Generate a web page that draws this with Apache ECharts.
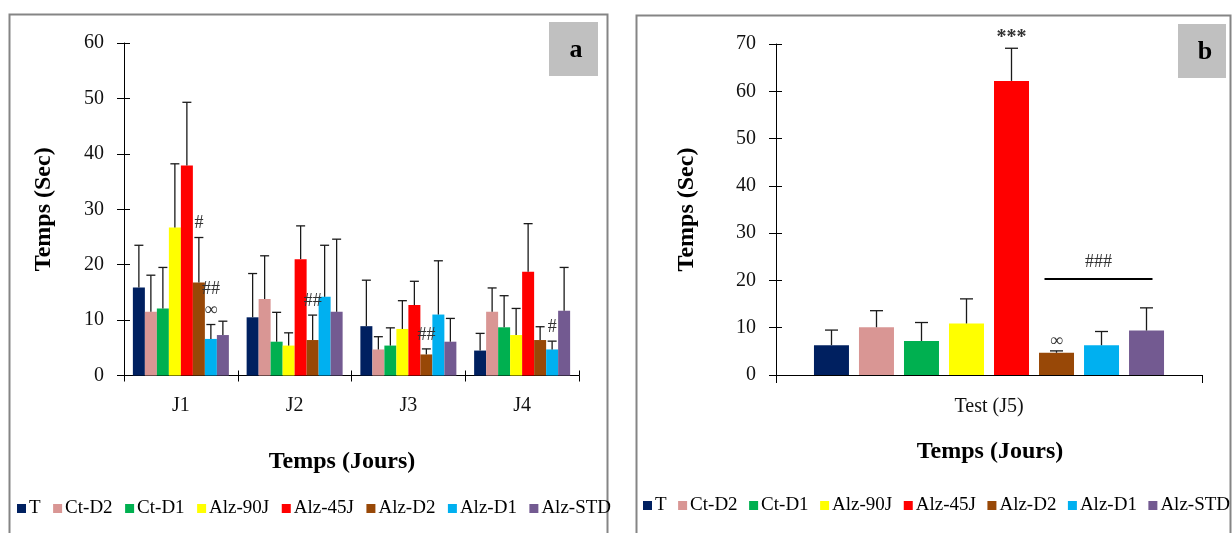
<!DOCTYPE html>
<html>
<head>
<meta charset="utf-8">
<script src="https://cdn.jsdelivr.net/npm/echarts@6/dist/echarts.min.js"></script>
<style>
  html, body { margin: 0; padding: 0; background: #fff; }
  #chart { width: 1232px; height: 533px; }
</style>
</head>
<body>
<div id="chart"></div>
<script>
// Groups and colours
const groups = ['T', 'Ct-D2', 'Ct-D1', 'Alz-90J', 'Alz-45J', 'Alz-D2', 'Alz-D1', 'Alz-STD'];
const groupColors = ['#002060', '#D99694', '#00B050', '#FFFF00', '#FF0000', '#984807', '#00B0F0', '#735A91'];

// Panel a: training days
const days = ['J1', 'J2', 'J3', 'J4'];
const meanJ1 = [15.9, 11.5, 12.1, 26.7, 37.9, 16.8, 6.6, 7.3];
const meanJ2 = [10.5, 13.8, 6.1, 5.4, 21.0, 6.4, 14.2, 11.5];
const meanJ3 = [8.9, 4.7, 5.4, 8.4, 12.7, 3.8, 11.0, 6.1];
const meanJ4 = [4.5, 11.5, 8.7, 7.3, 18.7, 6.4, 4.7, 11.7];
const semJ1 = [7.6, 6.6, 7.4, 11.5, 11.4, 8.1, 2.6, 2.5];
const semJ2 = [7.9, 7.8, 5.3, 2.3, 6.0, 4.5, 9.3, 13.1];
const semJ3 = [8.3, 2.3, 3.2, 5.1, 4.3, 1.0, 9.7, 4.2];
const semJ4 = [3.1, 4.3, 5.7, 4.8, 8.7, 2.4, 1.5, 7.8];
const yTicksA = [0, 10, 20, 30, 40, 50, 60];

// Panel b: probe test
const testDay = ['Test (J5)'];
const meanJ5 = [6.3, 10.1, 7.2, 10.9, 62.2, 4.7, 6.3, 9.4];
const semJ5 = [3.2, 3.5, 3.9, 5.2, 6.9, 0.4, 2.9, 4.8];
const yTicksB = [0, 10, 20, 30, 40, 50, 60, 70];

// Significance marks: [day, group, symbol]
const marksA = [
  ['J1', 'Alz-D2', '#'],
  ['J1', 'Alz-D1', '∞'],
  ['J1', 'Alz-D1', '##'],
  ['J2', 'Alz-D2', '##'],
  ['J3', 'Alz-D2', '##'],
  ['J4', 'Alz-D1', '#']
];
const marksB = [
  ['Test (J5)', 'Alz-45J', '***'],
  ['Test (J5)', 'Alz-D2', '∞']
];
// Bracket over the treated groups in the test
const bracketGroups = ['Alz-D2', 'Alz-STD'];
const bracketLevel = 20.3;
const bracketText = '###';

const serif = '"Liberation Serif", "Times New Roman", serif';
const meansA = [meanJ1, meanJ2, meanJ3, meanJ4];
const semsA = [semJ1, semJ2, semJ3, semJ4];

// Bar geometry (px)
const barA = { width: 12, gap: 0, cap: 9 };
const barB = { width: 35, gap: 10, cap: 13 };

function barOffset(geom, gi) {
  return (gi - (groups.length - 1) / 2) * (geom.width + geom.gap);
}

function errorBars(geom) {
  return function (params, api) {
    const cat = api.value(0), gi = api.value(3);
    const base = api.coord([cat, api.value(1)]);
    const top = api.coord([cat, api.value(2)]);
    const x = base[0] + barOffset(geom, gi);
    const style = { stroke: '#1a1a1a', lineWidth: 1.3 };
    return {
      type: 'group',
      children: [
        { type: 'line', shape: { x1: x, y1: base[1], x2: x, y2: top[1] }, style },
        { type: 'line', shape: { x1: x - geom.cap / 2, y1: top[1], x2: x + geom.cap / 2, y2: top[1] }, style }
      ]
    };
  };
}

function markLabels(geom, marks, firstLift, stepLift) {
  return function (params, api) {
    const cat = api.value(0), gi = api.value(2), level = api.value(3);
    const p = api.coord([cat, api.value(1)]);
    const x = p[0] + barOffset(geom, gi);
    const txt = marks[params.dataIndex][2];
    return {
      type: 'text',
      x: x, y: p[1] - firstLift - level * stepLift,
      style: {
        text: txt, fill: '#333',
        font: (txt === '***' ? 'bold 20px ' : '18px ') + serif,
        align: 'center', verticalAlign: 'middle'
      }
    };
  };
}

function markData(marks, cats, means, sems) {
  const seen = {};
  return marks.map(function (m) {
    const ci = cats.indexOf(m[0]), gi = groups.indexOf(m[1]);
    const key = ci + '_' + gi;
    const level = seen[key] || 0;
    seen[key] = level + 1;
    return [ci, means[ci][gi] + sems[ci][gi], gi, level];
  });
}

const series = [];
groups.forEach(function (g, gi) {
  series.push({
    name: g, type: 'bar', xAxisIndex: 0, yAxisIndex: 0,
    barWidth: barA.width, barGap: '0%',
    itemStyle: { color: groupColors[gi] },
    data: days.map(function (d, di) { return meansA[di][gi]; })
  });
});
groups.forEach(function (g, gi) {
  series.push({
    name: g, type: 'bar', xAxisIndex: 2, yAxisIndex: 2,
    barWidth: barB.width, barGap: (barB.gap / barB.width * 100).toFixed(1) + '%',
    itemStyle: { color: groupColors[gi] },
    data: [meanJ5[gi]]
  });
});

const errA = [];
days.forEach(function (d, di) {
  groups.forEach(function (g, gi) {
    errA.push([di, meansA[di][gi], meansA[di][gi] + semsA[di][gi], gi]);
  });
});
const errB = groups.map(function (g, gi) { return [0, meanJ5[gi], meanJ5[gi] + semJ5[gi], gi]; });

series.push({
  type: 'custom', xAxisIndex: 0, yAxisIndex: 0, z: 5, silent: true,
  renderItem: errorBars(barA), data: errA
});
series.push({
  type: 'custom', xAxisIndex: 2, yAxisIndex: 2, z: 5, silent: true,
  renderItem: errorBars(barB), data: errB
});
series.push({
  type: 'custom', xAxisIndex: 0, yAxisIndex: 0, z: 6, silent: true,
  renderItem: markLabels(barA, marksA, 14, 21),
  data: markData(marksA, days, meansA, semsA)
});
series.push({
  type: 'custom', xAxisIndex: 2, yAxisIndex: 2, z: 6, silent: true,
  renderItem: markLabels(barB, marksB, 10, 20),
  data: markData(marksB, testDay, [meanJ5], [semJ5])
});
series.push({
  type: 'custom', xAxisIndex: 2, yAxisIndex: 2, z: 6, silent: true,
  renderItem: function (params, api) {
    const g0 = api.value(1), g1 = api.value(2);
    const p = api.coord([api.value(0), api.value(3)]);
    const x0 = p[0] + barOffset(barB, g0) - 12;
    const x1 = p[0] + barOffset(barB, g1) + 6;
    return {
      type: 'group',
      children: [
        { type: 'line', shape: { x1: x0, y1: p[1], x2: x1, y2: p[1] }, style: { stroke: '#000', lineWidth: 2 } },
        { type: 'text', x: (x0 + x1) / 2, y: p[1] - 17,
          style: { text: bracketText, fill: '#333', font: '18px ' + serif, align: 'center', verticalAlign: 'middle' } }
      ]
    };
  },
  data: [[0, groups.indexOf(bracketGroups[0]), groups.indexOf(bracketGroups[1]), bracketLevel]]
});

const axisLine = { show: true, lineStyle: { color: '#000', width: 1 } };
const tickFont = { fontFamily: serif, fontSize: 20, color: '#111' };
const titleFont = { fontFamily: serif, fontSize: 24, fontWeight: 'bold', color: '#000' };

function valueAxis(grid, ticks, withName) {
  const ax = {
    type: 'value', gridIndex: grid, position: 'left', min: ticks[0], max: ticks[ticks.length - 1],
    interval: ticks[1] - ticks[0], splitLine: { show: false }
  };
  if (withName) {
    return Object.assign(ax, {
      axisLine: axisLine,
      axisTick: { show: true, length: 7, lineStyle: { color: '#000' } },
      axisLabel: Object.assign({ margin: 20 }, tickFont),
      name: 'Temps (Sec)', nameLocation: 'middle', nameTextStyle: titleFont
    });
  }
  return Object.assign(ax, {
    axisLine: { show: false },
    axisTick: { show: true, inside: true, length: 6, lineStyle: { color: '#000' } },
    axisLabel: { show: false }
  });
}

const legendText = { fontFamily: serif, fontSize: 19, color: '#000', padding: [0, 0, 0, -2] };

const option = {
  animation: false,
  backgroundColor: '#fff',
  grid: [
    { left: 124, top: 43, width: 455, height: 332.5 },
    { left: 776, top: 44, width: 426, height: 331 }
  ],
  xAxis: [
    { type: 'category', gridIndex: 0, data: days, axisLine: axisLine,
      axisTick: { show: true, length: 6, lineStyle: { color: '#000' } },
      axisLabel: Object.assign({ margin: 20 }, tickFont) },
    { type: 'category', gridIndex: 0, data: days, position: 'bottom', axisLine: { show: false },
      axisTick: { show: true, inside: true, length: 5, lineStyle: { color: '#000' } },
      axisLabel: { show: false } },
    { type: 'category', gridIndex: 1, data: testDay, axisLine: axisLine,
      axisTick: { show: true, length: 8, lineStyle: { color: '#000' } },
      axisLabel: Object.assign({ margin: 22 }, tickFont) },
    { type: 'category', gridIndex: 1, data: testDay, show: false }
  ],
  yAxis: [
    Object.assign(valueAxis(0, yTicksA, true), { nameGap: 68 }),
    valueAxis(0, yTicksA, false),
    Object.assign(valueAxis(1, yTicksB, true), { nameGap: 77 }),
    valueAxis(1, yTicksB, false)
  ],
  legend: [
    { left: 17, top: 499, padding: 0, itemWidth: 9, itemHeight: 9, itemGap: 12.5, icon: 'rect',
      data: groups, selectedMode: false, textStyle: legendText },
    { left: 643, top: 496, padding: 0, itemWidth: 9, itemHeight: 9, itemGap: 11.5, icon: 'rect',
      data: groups, selectedMode: false, textStyle: legendText }
  ],
  graphic: [
    { type: 'rect', shape: { x: 9.5, y: 14.5, width: 598, height: 540 }, style: { fill: 'none', stroke: '#858585', lineWidth: 2 }, z: -1 },
    { type: 'rect', shape: { x: 636.5, y: 15.5, width: 594, height: 540 }, style: { fill: 'none', stroke: '#858585', lineWidth: 2 }, z: -1 },
    { type: 'rect', shape: { x: 549, y: 22, width: 49, height: 54 }, style: { fill: '#C0C0C0' } },
    { type: 'text', x: 576, y: 50, style: { text: 'a', font: 'bold 26px ' + serif, fill: '#000', align: 'center', verticalAlign: 'middle' } },
    { type: 'rect', shape: { x: 1178, y: 24, width: 48, height: 54 }, style: { fill: '#C0C0C0' } },
    { type: 'text', x: 1205, y: 52, style: { text: 'b', font: 'bold 26px ' + serif, fill: '#000', align: 'center', verticalAlign: 'middle' } },
    { type: 'text', x: 342, y: 462, style: { text: 'Temps (Jours)', font: 'bold 24px ' + serif, fill: '#000', align: 'center', verticalAlign: 'middle' } },
    { type: 'text', x: 990, y: 452, style: { text: 'Temps (Jours)', font: 'bold 24px ' + serif, fill: '#000', align: 'center', verticalAlign: 'middle' } }
  ],
  series: series
};

const chart = echarts.init(document.getElementById('chart'), null, { renderer: 'canvas' });
chart.setOption(option);
</script>
</body>
</html>
